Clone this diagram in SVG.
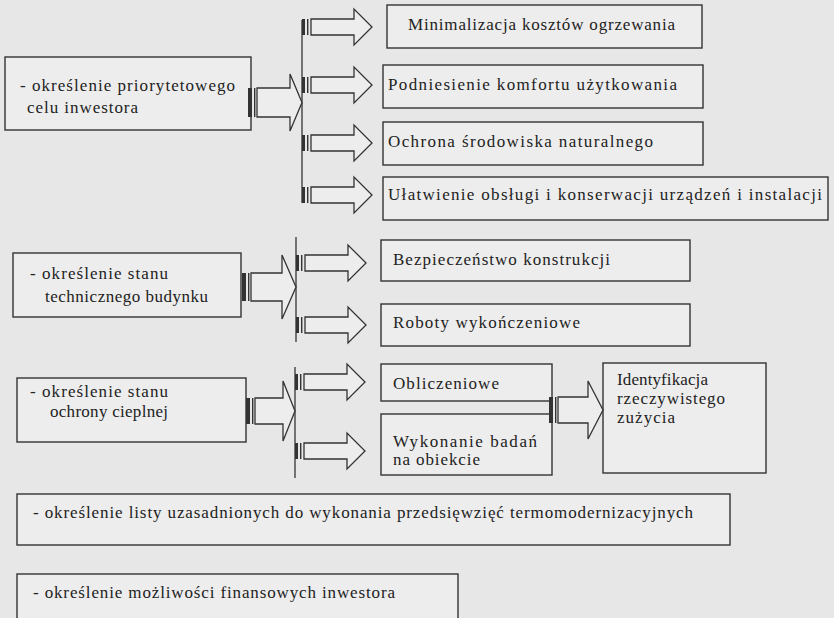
<svg xmlns="http://www.w3.org/2000/svg" xmlns:xlink="http://www.w3.org/1999/xlink" width="834" height="618" viewBox="0 0 834 618">
<style>
.box{fill:#ededed;stroke:#333;stroke-width:1.4}
.t{font-family:'Liberation Serif','DejaVu Serif',serif;font-size:17px;fill:#222}
.arr{fill:#ededed;stroke:#333;stroke-width:1.3;stroke-linejoin:miter}
.bar{fill:#333}
.vl{stroke:#333;stroke-width:1.3;fill:none}
</style>
<defs>
<g id="sa">
<rect x="0" y="-8" width="3" height="16" class="bar"/>
<rect x="5" y="-8" width="1.4" height="16" class="bar"/>
<polygon points="9,-8 52,-8 52,-18 70,0 52,18 52,8 9,8" class="arr"/>
</g>
</defs>
<rect x="0" y="0" width="834" height="618" fill="#e7e7e7"/>

<g font-family="Liberation Serif, serif">
<g id="n-cel">
<rect class="box" x="5" y="57" width="246" height="73"/>
<text class="t" x="20" y="91" textLength="215" lengthAdjust="spacing">- określenie priorytetowego</text>
<text class="t" x="27" y="113" textLength="111" lengthAdjust="spacing">celu inwestora</text>
</g>
<g id="n-stan-tech">
<rect class="box" x="13" y="253" width="228" height="64"/>
<text class="t" x="30" y="279" textLength="138" lengthAdjust="spacing">- określenie stanu</text>
<text class="t" x="45" y="302" textLength="163" lengthAdjust="spacing">technicznego budynku</text>
</g>
<g id="n-stan-ciepl">
<rect class="box" x="17" y="378" width="229" height="64"/>
<text class="t" x="30" y="397" textLength="138" lengthAdjust="spacing">- określenie stanu</text>
<text class="t" x="50" y="417" textLength="118" lengthAdjust="spacing">ochrony cieplnej</text>
</g>
<g id="n-min">
<rect class="box" x="387" y="5" width="315" height="43"/>
<text class="t" x="408" y="30" textLength="267" lengthAdjust="spacing">Minimalizacja kosztów ogrzewania</text>
</g>
<g id="n-komf">
<rect class="box" x="383" y="65" width="320" height="43"/>
<text class="t" x="388" y="90" textLength="289" lengthAdjust="spacing">Podniesienie komfortu użytkowania</text>
</g>
<g id="n-ochr">
<rect class="box" x="383" y="122" width="320" height="43"/>
<text class="t" x="388" y="147" textLength="265" lengthAdjust="spacing">Ochrona środowiska naturalnego</text>
</g>
<g id="n-ulat">
<rect class="box" x="383" y="177" width="445" height="43"/>
<text class="t" x="388" y="200" textLength="434" lengthAdjust="spacing">Ułatwienie obsługi i konserwacji urządzeń i instalacji</text>
</g>
<g id="n-bezp">
<rect class="box" x="381" y="240" width="309" height="41"/>
<text class="t" x="393" y="265" textLength="217" lengthAdjust="spacing">Bezpieczeństwo konstrukcji</text>
</g>
<g id="n-rob">
<rect class="box" x="381" y="304" width="309" height="42"/>
<text class="t" x="393" y="328" textLength="187" lengthAdjust="spacing">Roboty wykończeniowe</text>
</g>
<g id="n-oblicz">
<rect class="box" x="381" y="364" width="171" height="37"/>
<text class="t" x="393" y="389" textLength="106" lengthAdjust="spacing">Obliczeniowe</text>
</g>
<g id="n-bad">
<rect class="box" x="381" y="414" width="171" height="61"/>
<text class="t" x="393" y="447" textLength="144" lengthAdjust="spacing">Wykonanie badań</text>
<text class="t" x="393" y="465" textLength="87" lengthAdjust="spacing">na obiekcie</text>
</g>
<g id="n-ident">
<rect class="box" x="603" y="363" width="163" height="110"/>
<text class="t" x="617" y="385" textLength="91" lengthAdjust="spacing">Identyfikacja</text>
<text class="t" x="617" y="404" textLength="108" lengthAdjust="spacing">rzeczywistego</text>
<text class="t" x="617" y="423" textLength="58" lengthAdjust="spacing">zużycia</text>
</g>
<g id="n-lista">
<rect class="box" x="17" y="494" width="713" height="51"/>
<text class="t" x="33" y="518" textLength="660" lengthAdjust="spacing">- określenie listy uzasadnionych do wykonania przedsięwzięć termomodernizacyjnych</text>
</g>
<g id="n-fin">
<rect class="box" x="17" y="574" width="441" height="50"/>
<text class="t" x="33" y="598" textLength="362" lengthAdjust="spacing">- określenie możliwości finansowych inwestora</text>
</g>
</g>

<g id="connectors">
<line class="vl" x1="302" y1="20" x2="302" y2="203"/>
<line class="vl" x1="296" y1="237" x2="296" y2="342"/>
<line class="vl" x1="295" y1="367" x2="295" y2="478"/>

<rect class="bar" x="248" y="88" width="4" height="29"/>
<rect class="bar" x="254" y="88" width="1.4" height="29"/>
<polygon class="arr" points="257,88 290,88 290,74 302,102.5 290,131 290,117 257,117"/>

<rect class="bar" x="242" y="273" width="4" height="28"/>
<rect class="bar" x="248" y="273" width="1.4" height="28"/>
<polygon class="arr" points="251,273 282,273 282,255 296,287 282,319 282,301 251,301"/>

<rect class="bar" x="246" y="398" width="4" height="26"/>
<rect class="bar" x="252" y="398" width="1.4" height="26"/>
<polygon class="arr" points="255,398 283,398 283,381 295,411 283,441 283,424 255,424"/>

<rect class="bar" x="549" y="397" width="4" height="26"/>
<rect class="bar" x="555" y="397" width="1.4" height="26"/>
<polygon class="arr" points="558,397 588,397 588,381 603,410 588,439 588,423 558,423"/>

<use xlink:href="#sa" x="302" y="27"/>
<use xlink:href="#sa" x="302" y="85"/>
<use xlink:href="#sa" x="302" y="143"/>
<use xlink:href="#sa" x="302" y="195"/>
<use xlink:href="#sa" x="296" y="263"/>
<use xlink:href="#sa" x="296" y="325"/>
<use xlink:href="#sa" x="295" y="382"/>
<use xlink:href="#sa" x="295" y="451"/>
</g>
</svg>
